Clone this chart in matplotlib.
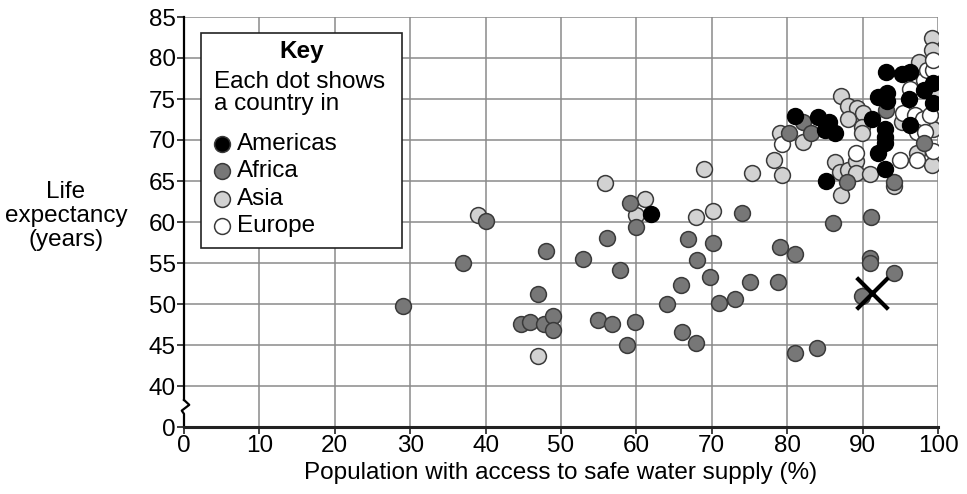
import matplotlib
matplotlib.use("Agg")
import matplotlib.pyplot as plt
from matplotlib.patches import Rectangle

plt.rcParams['font.family'] = ['Liberation Sans', 'DejaVu Sans']

# data (x = % with safe water, y = life expectancy)
americas_x = [61.9, 81.0, 84.1, 85.5, 85.0, 86.3, 85.1, 91.2, 92.1, 93.2, 93.2, 93.0,
              93.0, 93.0, 92.0, 93.0, 93.1, 95.2, 96.3, 99.4, 98.1, 96.1, 99.4, 96.3]
americas_y = [61.0, 72.9, 72.8, 72.2, 71.2, 70.9, 65.0, 72.6, 75.2, 75.7, 74.7, 71.4,
              70.4, 69.6, 68.4, 66.5, 78.3, 78.1, 78.3, 77.0, 76.1, 75.0, 74.5, 71.8]

africa_x = [29.0, 37.0, 40.1, 48.0, 46.9, 44.7, 45.9, 47.7, 48.9, 49.0,
            52.9, 54.9, 56.1, 56.8, 57.8, 58.8, 59.1, 59.8, 60.0,
            64.0, 65.9, 66.0, 66.9, 67.9, 68.1, 69.8, 70.1, 71.0, 73.1, 74.0, 75.1,
            78.8, 79.0, 81.1, 81.0, 84.0, 86.1, 89.9, 91.0, 91.0, 91.1, 94.2,
            80.3, 82.1, 83.2, 87.9, 94.2, 93.1, 98.2]
africa_y = [49.75, 55.0, 60.1, 56.5, 51.2, 47.5, 47.85, 47.6, 48.5, 46.8,
            55.5, 48.1, 58.0, 47.6, 54.1, 45.0, 62.3, 47.8, 59.35,
            50.0, 52.3, 46.6, 57.9, 45.3, 55.4, 53.25, 57.4, 50.1, 50.6, 61.05, 52.7,
            52.7, 56.9, 56.1, 44.0, 44.6, 59.9, 51.0, 55.6, 55.0, 60.6, 53.8,
            70.8, 72.2, 70.8, 64.9, 64.9, 73.7, 69.6]

asia_x = [39.0, 46.9, 55.9, 60.0, 61.1, 67.9, 69.0, 70.1, 75.3, 78.2, 79.3, 79.0, 82.1,
          86.3, 87.0, 88.1, 89.1, 89.1, 91.0, 87.2, 94.2,
          87.2, 88.1, 89.2, 90.1, 88.1, 89.9, 89.9,
          95.2, 97.2, 99.2, 99.3, 99.6, 97.5, 99.2, 99.2]
asia_y = [60.85, 43.7, 64.7, 60.8, 62.8, 60.6, 66.5, 61.3, 66.0, 67.6, 65.7, 70.8, 69.8,
          67.35, 66.1, 66.3, 67.4, 66.0, 65.85, 63.3, 64.4,
          75.4, 74.1, 73.9, 73.3, 72.6, 71.6, 70.8,
          72.2, 68.4, 67.0, 71.4, 75.5, 79.5, 82.4, 81.0]

europe_x = [79.3, 89.1, 94.9, 95.3, 96.9, 98.0, 99.0, 97.2, 98.3, 99.3, 97.2,
            96.3, 98.1, 98.5, 99.3, 99.3]
europe_y = [69.5, 68.4, 67.6, 73.3, 73.0, 72.5, 73.0, 71.0, 71.0, 68.7, 67.6,
            76.2, 77.3, 78.5, 78.5, 79.8]

cross_x, cross_y = 91.2, 51.4

groups = [("Americas", "#000000"), ("Africa", "#777777"),
          ("Asia", "#d2d2d2"), ("Europe", "#ffffff")]

x_ticks = list(range(0, 101, 10))
y_ticks = [35, 40, 45, 50, 55, 60, 65, 70, 75, 80, 85]
y_ticklabels = ["0", "40", "45", "50", "55", "60", "65", "70", "75", "80", "85"]

FS = 17.5

fig = plt.figure(figsize=(9.67, 4.94), dpi=100)
ax = fig.add_axes([184 / 967, 1 - 427 / 494, (938 - 184) / 967, (427 - 17) / 494])

ax.set_xlim(0, 100)
ax.set_ylim(35, 85)

# grid
for xv in x_ticks[1:]:
    ax.axvline(xv, color="#8a8a8a", lw=1.1, zorder=1)
for yv in y_ticks[1:]:
    ax.axhline(yv, color="#8a8a8a", lw=1.1, zorder=1)

s = 130
ec = "#3a3a3a"
ax.scatter(asia_x, asia_y, s=s, c=groups[2][1], edgecolors=ec, linewidths=1.1, zorder=3)
ax.scatter(europe_x, europe_y, s=s, c=groups[3][1], edgecolors=ec, linewidths=1.1, zorder=3)
ax.scatter(africa_x, africa_y, s=s, c=groups[1][1], edgecolors=ec, linewidths=1.1, zorder=4)
ax.scatter(americas_x, americas_y, s=s, c=groups[0][1], edgecolors="#000000", linewidths=1.1, zorder=5)

ax.scatter([cross_x], [cross_y], marker="x", s=520, c="black", linewidths=3, zorder=6)

# axes frame
for side in ["top", "right", "left"]:
    ax.spines[side].set_visible(False)
ax.spines["bottom"].set_linewidth(2.2)
ax.spines["bottom"].set_color("#222222")
ax.spines["bottom"].set_zorder(7)

# left axis with break
ax.plot([0, 0], [85, 38.3], color="black", lw=1.6, clip_on=False, zorder=7)
ax.plot([0, 0.7, -0.3, 0, 0], [38.3, 37.7, 37.0, 36.6, 35], color="black", lw=1.6,
        clip_on=False, zorder=7)

ax.set_xticks(x_ticks)
ax.set_yticks(y_ticks)
ax.set_yticklabels(y_ticklabels)
ax.tick_params(axis="both", labelsize=FS, length=5, width=1.2, color="#222222", pad=1)

ax.set_xlabel("Population with access to safe water supply (%)", fontsize=FS, labelpad=3)
fig.text(66 / 967, 1 - 216 / 494, "Life\nexpectancy\n(years)", fontsize=FS,
         ha="center", va="center", linespacing=1.12)

# key box
ax.add_patch(Rectangle((0.022, 0.437), 0.267, 0.523, transform=ax.transAxes,
                       facecolor="white", edgecolor="#222222", lw=1.2, zorder=8))
ax.text(0.156, 0.916, "Key", transform=ax.transAxes, fontsize=FS, fontweight="bold",
        ha="center", va="center", zorder=9)
ax.text(0.040, 0.815, "Each dot shows\na country in", transform=ax.transAxes, fontsize=FS,
        ha="left", va="center", linespacing=1.0, zorder=9)
key_y = [0.690, 0.624, 0.556, 0.490]
for (name, col), ky in zip(groups, key_y):
    ax.scatter([0.050], [ky], s=s, c=col, edgecolors=ec, linewidths=1.1,
               transform=ax.transAxes, zorder=9, clip_on=False)
    ax.text(0.070, ky, name, transform=ax.transAxes, fontsize=FS,
            ha="left", va="center", zorder=9)

fig.savefig("out.png", dpi=100)
